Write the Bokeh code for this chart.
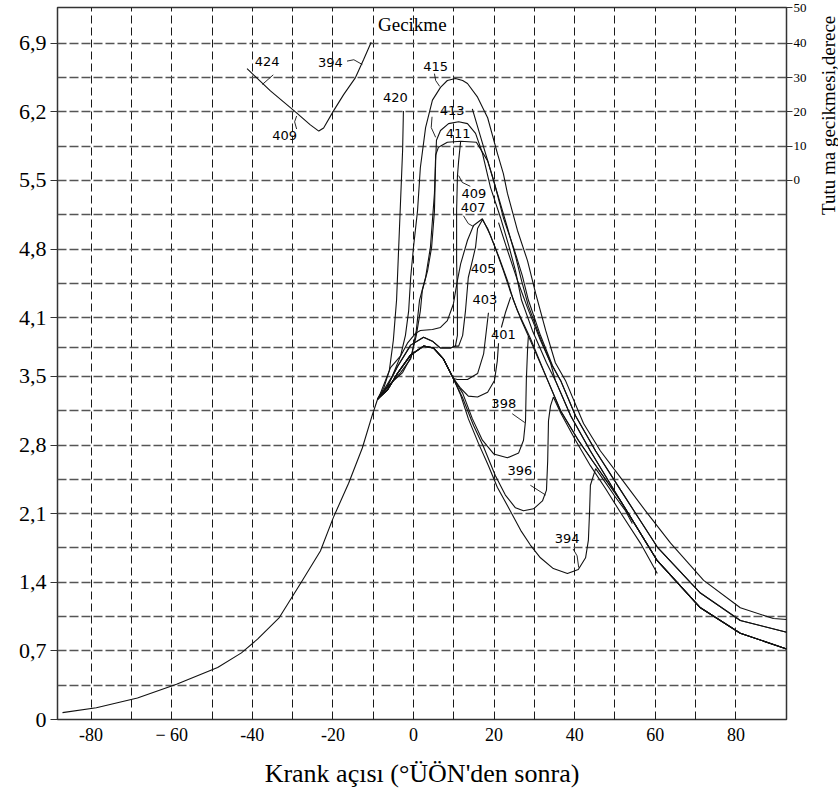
import numpy as np
from bokeh.plotting import figure
from bokeh.layouts import row
from bokeh.models import Range1d, FixedTicker, LinearAxis
from bokeh.embed import file_html
from bokeh.resources import INLINE
from bokeh.core.properties import value

# ---------------- axes / ticks ----------------
x_ticks = [-80, -60, -40, -20, 0, 20, 40, 60, 80]
x_tick_labels = ["-80", "\u2212 60", "-40", "-20", "0", "20", "40", "60", "80"]
x_grid = [-80, -70, -60, -50, -40, -30, -20, -10, 0, 10, 20, 30, 40, 50, 60, 70, 80]

y_ticks = [0, 0.7, 1.4, 2.1, 2.8, 3.5, 4.1, 4.8, 5.5, 6.2, 6.9]
y_tick_labels = ["0", "0,7", "1,4", "2,1", "2,8", "3,5", "4,1", "4,8", "5,5", "6,2", "6,9"]
y_grid = [0.35, 0.7, 1.05, 1.4, 1.75, 2.1, 2.45, 2.8, 3.15, 3.5, 3.8, 4.1, 4.45,
          4.8, 5.15, 5.5, 5.85, 6.2, 6.55, 6.9]

# right axis: ignition delay (degrees) placed on the grid lines
r_deg = [0, 10, 20, 30, 40, 50]
r_pos = [5.5, 5.85, 6.2, 6.55, 6.9, 7.26]

# ---------------- data: pressure curves ----------------
comp_x = [-87.1, -78.7, -68.5, -58.8, -48.6, -42.7, -38.7, -33.3, -28.0, -23.1, -19.9, -16.1, -12.7, -10.2, -8.9]
comp_y = [0.07, 0.12, 0.22, 0.36, 0.53, 0.68, 0.82, 1.04, 1.39, 1.72, 2.06, 2.41, 2.77, 3.11, 3.27]

low_x = [-6.5, -4.0, -0.7, 2.5, 5.0, 7.4, 9.9]
low_y = [3.36, 3.53, 3.72, 3.81, 3.79, 3.68, 3.48]

up_x = [-6.5, -4.0, -0.7, 2.5, 4.7, 6.7, 9.2, 10.4]
up_y = [3.40, 3.60, 3.82, 3.90, 3.86, 3.79, 3.79, 3.81]

tailA_x = [37.7, 42.2, 46.4, 51.9, 58.1, 63.8, 72.0, 81.1, 89.3, 92.6]
tailA_y = [3.46, 3.02, 2.74, 2.44, 2.10, 1.80, 1.42, 1.14, 1.03, 1.02]
tailB_x = [36.5, 40.2, 45.2, 51.4, 60.5, 71.2, 81.1, 92.6]
tailB_y = [3.46, 3.10, 2.74, 2.34, 1.76, 1.29, 1.01, 0.89]
tailC_x = [35.2, 39.0, 43.9, 51.4, 60.5, 71.2, 81.1, 92.6]
tailC_y = [3.46, 3.10, 2.74, 2.23, 1.62, 1.14, 0.88, 0.72]

c420_x = [-7.4, -6.0, -5.0, -4.2, -3.7, -3.2, -2.7, -2.5]
c420_y = [3.38, 3.56, 3.87, 4.28, 4.79, 5.30, 5.81, 6.21]
c420b_x = [14.6, 17.4, 19.9, 22.3, 24.8, 27.0, 28.5, 31.5, 34.5]
c420b_y = [6.23, 5.84, 5.50, 5.12, 4.82, 4.53, 4.28, 3.92, 3.61]

c415_x = [-7.4, -5.2, -3.2, -2.0, -1.2, -0.7, 0.0, 1.0, 1.7, 3.0, 4.7, 6.7, 8.4, 10.4, 12.2, 13.4,
          15.9, 18.4, 20.8, 22.3, 23.3, 25.8, 28.3, 30.3, 32.8, 35.2]
c415_y = [3.36, 3.51, 3.71, 3.92, 4.17, 4.51, 4.82, 5.19, 5.63, 6.04, 6.32, 6.45, 6.52, 6.54, 6.52, 6.49,
          6.35, 6.14, 5.78, 5.57, 5.37, 4.99, 4.68, 4.35, 3.97, 3.64]

c413_x = [-6.2, -3.2, -0.7, 0.7, 1.7, 2.2, 3.5, 4.5, 5.2, 5.5, 5.7, 6.7, 8.7, 11.2, 13.4, 15.4, 17.1,
          19.1, 21.6, 23.6, 25.3, 26.8, 29.5, 33.0]
c413_y = [3.40, 3.54, 3.68, 3.92, 4.17, 4.38, 4.58, 4.82, 5.19, 5.70, 5.91, 6.01, 6.08, 6.10, 6.08, 5.98,
          5.78, 5.43, 5.12, 4.84, 4.58, 4.28, 3.97, 3.64]

c411_x = [-5.7, -2.7, -0.5, 0.7, 1.5, 3.0, 4.2, 5.2, 5.5, 6.2, 8.4, 11.7, 15.6, 18.4, 20.8, 23.3, 25.3,
          26.8, 28.5, 31.5, 34.0]
c411_y = [3.43, 3.54, 3.71, 3.97, 4.28, 4.51, 4.82, 5.37, 5.76, 5.84, 5.89, 5.90, 5.89, 5.70, 5.37, 5.02,
          4.73, 4.48, 4.22, 3.89, 3.64]

c409_x = [10.9, 10.9, 10.7, 10.7, 10.9, 11.2, 11.7]
c409_y = [3.92, 4.28, 4.68, 5.19, 5.54, 5.70, 5.90]

c407_x = [-8.2, -5.7, -3.2, -1.5, 0.5, 1.7, 4.7, 6.7, 8.4, 9.9, 10.9, 11.7, 13.4, 14.9, 17.1, 19.1, 21.1,
          23.3, 24.8, 26.6, 29.5, 33.3, 36.5, 40.9, 44.4, 51.4]
c407_y = [3.33, 3.59, 3.71, 3.84, 3.94, 3.97, 3.98, 4.00, 4.07, 4.24, 4.48, 4.65, 4.89, 5.04, 5.11, 4.94,
          4.73, 4.48, 4.28, 4.09, 3.82, 3.46, 3.15, 2.85, 2.64, 2.23]

c405_x = [11.2, 12.2, 12.9, 13.6, 14.6, 15.4, 15.9, 17.1, 18.4, 20.3, 22.3, 24.1, 25.8, 29.0, 33.3, 36.5,
          40.9, 44.4, 51.4]
c405_y = [3.81, 3.92, 4.17, 4.51, 4.68, 4.82, 5.01, 5.10, 5.01, 4.81, 4.58, 4.36, 4.17, 3.89, 3.46, 3.15,
          2.85, 2.64, 2.23]

c403_x = [10.9, 13.4, 15.9, 17.4, 18.6]
c403_y = [3.47, 3.47, 3.53, 3.73, 4.15]
c403b_x = [21.1, 23.3, 25.8, 28.3, 31.5, 34.0]
c403b_y = [5.07, 4.79, 4.48, 4.20, 3.87, 3.64]

c401_x = [11.7, 13.6, 15.9, 18.4, 20.1, 20.8, 21.1]
c401_y = [3.38, 3.30, 3.29, 3.34, 3.46, 3.66, 3.84]
c401b_x = [21.8, 22.8, 24.1]
c401b_y = [4.00, 4.15, 4.31]

c398_x = [12.2, 14.6, 17.1, 19.9, 23.3, 26.1, 27.3, 27.8, 28.0, 28.3, 28.5]
c398_y = [3.33, 3.07, 2.85, 2.71, 2.67, 2.72, 2.85, 3.05, 3.46, 3.77, 3.91]

c396_x = [12.2, 14.9, 17.4, 20.3, 22.8, 25.3, 27.3, 29.8, 32.0, 33.0, 33.3, 33.5, 34.0, 34.7, 36.5, 40.2,
          43.9, 47.6, 51.4, 56.3, 60.5]
c396_y = [3.28, 3.00, 2.78, 2.49, 2.29, 2.16, 2.13, 2.15, 2.23, 2.34, 2.64, 3.05, 3.20, 3.29, 3.13, 2.85,
          2.59, 2.36, 2.11, 1.80, 1.49]

c394_x = [11.7, 13.6, 16.1, 18.6, 20.8, 23.6, 26.6, 29.0, 31.5, 34.7, 38.2, 40.9, 42.7, 43.4, 43.7, 43.9,
          45.2, 47.6, 50.1, 52.6, 54.3]
c394_y = [3.31, 3.07, 2.82, 2.59, 2.37, 2.16, 1.93, 1.78, 1.65, 1.54, 1.49, 1.53, 1.65, 1.83, 2.13, 2.39,
          2.56, 2.42, 2.27, 2.13, 2.00]

# ignition delay curve (right axis, degrees)
gk_x = [-41.3, -35.5, -29.3, -25.6, -23.5, -22.3, -20.0, -17.3, -14.4, -12.4, -10.5]
gk_deg = [32.6, 26.1, 20.0, 16.2, 14.4, 15.3, 20.0, 25.1, 30.0, 35.2, 40.3]

# curve labels
lbl_text = ["420", "415", "413", "411", "409", "407", "405", "403", "401", "398", "396", "394"]
lbl_x = [-4.5, 5.5, 9.6, 11.1, 15.0, 14.8, 17.3, 17.7, 22.3, 22.4, 26.4, 38.1]
lbl_y = [6.35, 6.66, 6.21, 5.98, 5.37, 5.22, 4.60, 4.29, 3.93, 3.22, 2.54, 1.85]

gk_lbl_text = ["424", "394", "409"]
gk_lbl_x = [-36.3, -20.6, -32.0]
gk_lbl_deg = [34.8, 34.4, 13.2]

# leader lines (pressure-axis units)
leaders = [
    ([5.2, 5.5, 6.5], [6.59, 6.52, 6.46]),        # 415
    ([4.6, 4.4, 5.5], [6.15, 6.04, 5.94]),        # 413
    ([11.2, 12.1, 14.1], [5.55, 5.48, 5.44]),     # 409
    ([12.4, 13.6, 14.9], [5.14, 5.06, 5.03]),     # 407
    ([24.5, 27.6], [3.12, 3.03]),                 # 398
    ([29.0, 32.8], [2.39, 2.29]),                 # 396
    ([39.6, 40.6, 41.0], [1.74, 1.67, 1.55]),     # 394
]
# leader lines on delay curve (degrees)
gk_leaders = [
    ([-37.5, -34.8], [28.0, 30.8]),
    ([-16.5, -14.8, -12.7], [34.8, 35.2, 33.8]),
    ([-29.0, -29.5, -29.0], [18.8, 17.1, 15.0]),
]

right_title = "Tutu ma gecikmesi,derece"

# ---------------- figure ----------------
SERIF = "'Liberation Serif', 'Times New Roman', serif"
SANS = "'DejaVu Sans'"

X0, X1 = -88.34, 92.56
Y0, Y1 = 0.0, 7.265
p = figure(width=818, height=792, x_range=Range1d(X0, X1), y_range=Range1d(Y0, Y1),
           output_backend="svg", toolbar_location=None,
           min_border_left=57, min_border_right=32, min_border_top=7, min_border_bottom=73)
p.background_fill_color = "white"
p.border_fill_color = "white"
p.outline_line_color = "#333333"
p.outline_line_width = 1.5

# grid
p.xgrid.ticker = FixedTicker(ticks=x_grid)
p.ygrid.ticker = FixedTicker(ticks=y_grid)
p.xgrid.grid_line_color = "#1a1a1a"
p.xgrid.grid_line_dash = "8 4"
p.xgrid.grid_line_width = 1
p.ygrid.grid_line_color = "#555555"
p.ygrid.grid_line_dash = "9 3"
p.ygrid.grid_line_width = 1.4

# bottom axis
xa = p.xaxis[0]
xa.ticker = FixedTicker(ticks=x_ticks)
xa.major_label_overrides = {t: s for t, s in zip(x_ticks, x_tick_labels)}
xa.major_tick_out = 0
xa.major_tick_in = 0
xa.minor_tick_out = 0
xa.minor_tick_in = 0
xa.axis_line_color = None
xa.major_label_text_font = SERIF
xa.major_label_text_font_size = "18px"
xa.major_label_text_color = "black"
xa.major_label_standoff = 5
xa.axis_label = "Krank a\u00e7\u0131s\u0131 (\u00b0\u00dc\u00d6N'den sonra)"
xa.axis_label_text_font = SERIF
xa.axis_label_text_font_size = "26px"
xa.axis_label_text_font_style = "normal"
xa.axis_label_text_color = "black"
xa.axis_label_standoff = 11

# left axis
ya = p.yaxis[0]
ya.ticker = FixedTicker(ticks=y_ticks)
ya.major_label_overrides = {t: s for t, s in zip(y_ticks, y_tick_labels)}
ya.major_tick_out = 7
ya.major_tick_in = 0
ya.minor_tick_out = 0
ya.minor_tick_in = 0
ya.major_tick_line_color = "#333333"
ya.axis_line_color = None
ya.major_label_text_font = SERIF
ya.major_label_text_font_size = "22px"
ya.major_label_text_color = "black"
ya.major_label_standoff = 4

# right axis
ra = LinearAxis(ticker=FixedTicker(ticks=r_pos),
                major_label_overrides={t: str(d) for t, d in zip(r_pos, r_deg)})
ra.major_tick_out = 6
ra.major_tick_in = 0
ra.minor_tick_out = 0
ra.minor_tick_in = 0
ra.major_tick_line_color = "#333333"
ra.axis_line_color = None
ra.major_label_text_font = SERIF
ra.major_label_text_font_size = "13px"
ra.major_label_text_color = "black"
ra.major_label_standoff = 1
p.add_layout(ra, "right")

# ---------------- curves ----------------
LC = "#111111"
LW = 1.1

bx, by = comp_x[-1], comp_y[-1]
p.line(comp_x, comp_y, line_color=LC, line_width=LW)

def draw(xs, ys):
    p.line(xs, ys, line_color=LC, line_width=LW)

draw([bx] + c420_x, [by] + c420_y)
draw(c420b_x + tailB_x, c420b_y + tailB_y)
draw([bx] + c415_x + tailA_x, [by] + c415_y + tailA_y)
draw([bx] + c413_x + tailC_x, [by] + c413_y + tailC_y)
draw([bx] + c411_x + tailB_x, [by] + c411_y + tailB_y)
draw([bx] + up_x + c409_x, [by] + up_y + c409_y)
draw([bx] + c407_x + tailC_x[4:], [by] + c407_y + tailC_y[4:])
draw([bx] + up_x + c405_x + tailC_x[4:], [by] + up_y + c405_y + tailC_y[4:])
draw([bx] + low_x + c403_x, [by] + low_y + c403_y)
draw(c403b_x + tailC_x, c403b_y + tailC_y)
draw([bx] + low_x + c401_x, [by] + low_y + c401_y)
draw(c401b_x, c401b_y)
draw([bx] + low_x + c398_x, [by] + low_y + c398_y)
draw([bx] + low_x + c396_x, [by] + low_y + c396_y)
draw([bx] + low_x + c394_x, [by] + low_y + c394_y)

for lx, ly in leaders:
    p.line(lx, ly, line_color=LC, line_width=0.9)

# ignition-delay curve mapped onto right-axis grid
gk_y = np.interp(gk_deg, r_deg, r_pos)
p.line(gk_x, gk_y, line_color=LC, line_width=LW)
for lx, ld in gk_leaders:
    p.line(lx, np.interp(ld, r_deg, r_pos), line_color=LC, line_width=0.9)

# labels
p.text(x=lbl_x, y=lbl_y, text=lbl_text, text_font=value(SANS), text_font_size="13px",
       text_align="center", text_baseline="middle", text_color="black")
p.text(x=gk_lbl_x, y=list(np.interp(gk_lbl_deg, r_deg, r_pos)), text=gk_lbl_text,
       text_font=value(SANS), text_font_size="13px",
       text_align="center", text_baseline="middle", text_color="black")
p.text(x=[-0.3], y=[7.09], text=["Gecikme"], text_font=value(SERIF), text_font_size="19px",
       text_align="center", text_baseline="middle", text_color="black")

# ---------------- narrow strip holding the rotated right-axis title ----------------
q = figure(width=20, height=792, x_range=Range1d(0, 1), y_range=Range1d(0, 792),
           output_backend="svg", toolbar_location=None,
           min_border_left=0, min_border_right=0, min_border_top=0, min_border_bottom=0)
q.axis.visible = False
q.grid.visible = False
q.outline_line_color = None
q.background_fill_color = "white"
q.border_fill_color = "white"
q.text(x=[0.5], y=[672], text=[right_title], angle=90, angle_units="deg",
       text_font=value(SERIF), text_font_size="19px", text_align="center",
       text_baseline="middle", text_color="black")

layout = row(p, q, spacing=0)
open("out.html", "w").write(file_html(layout, INLINE))
